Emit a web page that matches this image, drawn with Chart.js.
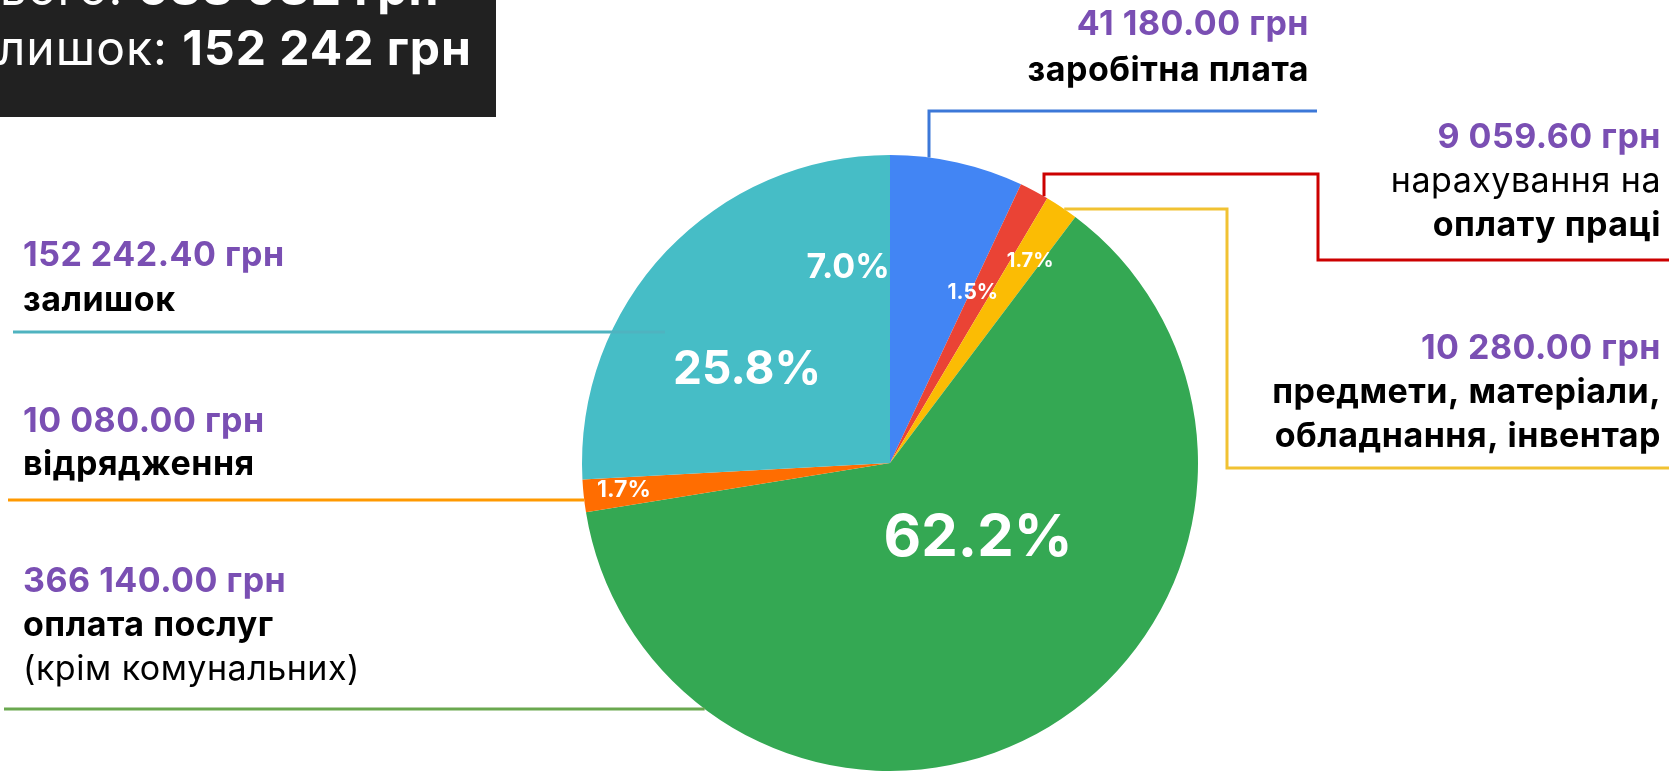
<!DOCTYPE html>
<html>
<head>
<meta charset="utf-8">
<script src="https://cdn.jsdelivr.net/npm/chart.js@4"></script>
<style>
    body { margin: 0; background: #fff; overflow: hidden; }
    canvas { display: block; }
</style>
</head>
<body>
<canvas id="chart" width="1669" height="771"></canvas>
<script>
// data
const categories = [
    "заробітна плата",
    "нарахування на оплату праці",
    "предмети, матеріали, обладнання, інвентар",
    "оплата послуг (крім комунальних)",
    "відрядження",
    "залишок"
];
const amounts = [41180.00, 9059.60, 10280.00, 366140.00, 10080.00, 152242.40];
const sliceColors = ["#4285F4", "#EA4335", "#FBBC04", "#34A853", "#FF6D01", "#46BDC6"];
const lineColors = ["#3C78D8", "#CC0000", "#F1C232", "#6AA84F", "#FF9900", "#4FB3C0"];

// label text lines per slice: [text, bold]
const labelLines = [
    [["заробітна плата", true]],
    [["нарахування на", false], ["оплату праці", true]],
    [["предмети, матеріали,", true], ["обладнання, інвентар", true]],
    [["оплата послуг", true], ["(крім комунальних)", false]],
    [["відрядження", true]],
    [["залишок", true]]
];

const FONT = "Inter, 'Open Sans', sans-serif";
const PURPLE = "#7A4FB3";

// where each label block sits (page pixels)
const labelLayout = [
    { x: 1309, align: "right", y: 35, gap: 46 },
    { x: 1661, align: "right", y: 148, gap: 44 },
    { x: 1661, align: "right", y: 359, gap: 44 },
    { x: 23, align: "left", y: 592, gap: 44 },
    { x: 23, align: "left", y: 432, gap: 43 },
    { x: 23, align: "left", y: 266, gap: 45 }
];

// leader lines; edge points are computed on the pie rim
const leaders = [
    [{ x: 929, edge: "y" }, { x: 929, y: 111 }, { x: 1317, y: 111 }],
    [{ x: 1044, edge: "y" }, { x: 1044, y: 174 }, { x: 1318, y: 174 }, { x: 1318, y: 260 }, { x: 1669, y: 260 }],
    [{ y: 209, edge: "xr" }, { x: 1227, y: 209 }, { x: 1227, y: 468 }, { x: 1669, y: 468 }],
    [{ x: 4, y: 709 }, { y: 709, edge: "xl" }],
    [{ x: 8, y: 500 }, { y: 500, edge: "xl" }],
    [{ x: 13, y: 332 }, { x: 665, y: 332 }]
];

// percent labels: offset from pie centre in radii, font size
const pctPos = [
    { fx: -0.136, fy: -0.633, size: 34 },
    { fx: 0.269, fy: -0.552, size: 21 },
    { fx: 0.455, fy: -0.655, size: 20 },
    { fx: 0.286, fy: 0.244, size: 58 },
    { fx: -0.864, fy: 0.088, size: 23 },
    { fx: -0.464, fy: -0.302, size: 46 }
];

const total = amounts.reduce((a, b) => a + b, 0);

function money(v, decimals) {
    const parts = v.toFixed(decimals).split(".");
    const intPart = parts[0].replace(/\B(?=(\d{3})+(?!\d))/g, " ");
    return parts.length > 1 ? intPart + "." + parts[1] : intPart;
}

function richWidth(ctx, pieces) {
    let w = 0;
    pieces.forEach(p => { ctx.font = p[1]; w += ctx.measureText(p[0]).width; });
    return w;
}

function drawRich(ctx, pieces, x, y) {
    let cx = x;
    pieces.forEach(p => {
        ctx.font = p[1];
        ctx.fillStyle = p[2];
        ctx.textAlign = "left";
        ctx.fillText(p[0], cx, y);
        cx += ctx.measureText(p[0]).width;
    });
}

const annotations = {
    id: "annotations",
    afterDatasetsDraw(chart) {
        const ctx = chart.ctx;
        const arc0 = chart.getDatasetMeta(0).data[0];
        const cx = arc0.x, cy = arc0.y, r = arc0.outerRadius;

        ctx.save();
        // leader lines
        ctx.lineWidth = 3;
        leaders.forEach((path, i) => {
            ctx.strokeStyle = lineColors[i];
            ctx.beginPath();
            path.forEach((p, k) => {
                let px = p.x, py = p.y;
                if (p.edge === "y") py = cy - Math.sqrt(r * r - (px - cx) * (px - cx));
                if (p.edge === "xr") px = cx + Math.sqrt(r * r - (py - cy) * (py - cy));
                if (p.edge === "xl") px = cx - Math.sqrt(r * r - (py - cy) * (py - cy));
                if (k === 0) ctx.moveTo(px, py); else ctx.lineTo(px, py);
            });
            ctx.stroke();
        });

        // percent labels inside the pie
        ctx.fillStyle = "#fff";
        ctx.textAlign = "center";
        ctx.textBaseline = "middle";
        amounts.forEach((v, i) => {
            const p = pctPos[i];
            ctx.font = "bold " + p.size + "px " + FONT;
            ctx.fillText((v / total * 100).toFixed(1) + "%", cx + p.fx * r, cy + p.fy * r);
        });

        // outside labels
        ctx.textBaseline = "alphabetic";
        ctx.letterSpacing = "0.5px";
        amounts.forEach((v, i) => {
            const L = labelLayout[i];
            ctx.textAlign = L.align;
            ctx.font = "bold 34px " + FONT;
            ctx.fillStyle = PURPLE;
            ctx.fillText(money(v, 2) + " грн", L.x, L.y);
            labelLines[i].forEach((ln, k) => {
                ctx.font = (ln[1] ? "bold " : "") + "34px " + FONT;
                ctx.fillStyle = "#000";
                ctx.fillText(ln[0], L.x, L.y + L.gap * (k + 1));
            });
        });

        // dark summary box, top-left (cropped in the original)
        ctx.fillStyle = "#212121";
        ctx.fillRect(0, 0, 496, 117);
        ctx.letterSpacing = "1px";
        const line1 = [
            ["Всього: ", "48px " + FONT, "#fff"],
            [money(total, 0) + " грн", "bold 48px " + FONT, "#fff"]
        ];
        const line2 = [
            ["Залишок: ", "48px " + FONT, "#fff"],
            [money(Math.floor(amounts[5]), 0) + " грн", "bold 48px " + FONT, "#fff"]
        ];
        const startX = 472 - richWidth(ctx, line2);
        drawRich(ctx, line1, startX, 5);
        drawRich(ctx, line2, startX, 65);
        ctx.restore();
    }
};

new Chart(document.getElementById("chart"), {
    type: "pie",
    data: {
        labels: categories,
        datasets: [{
            data: amounts,
            backgroundColor: sliceColors,
            borderWidth: 0
        }]
    },
    options: {
        responsive: false,
        animation: false,
        layout: { padding: { left: 582, right: 471, top: 155, bottom: 0 } },
        plugins: {
            legend: { display: false },
            tooltip: { enabled: false }
        }
    },
    plugins: [annotations]
});
</script>
</body>
</html>
